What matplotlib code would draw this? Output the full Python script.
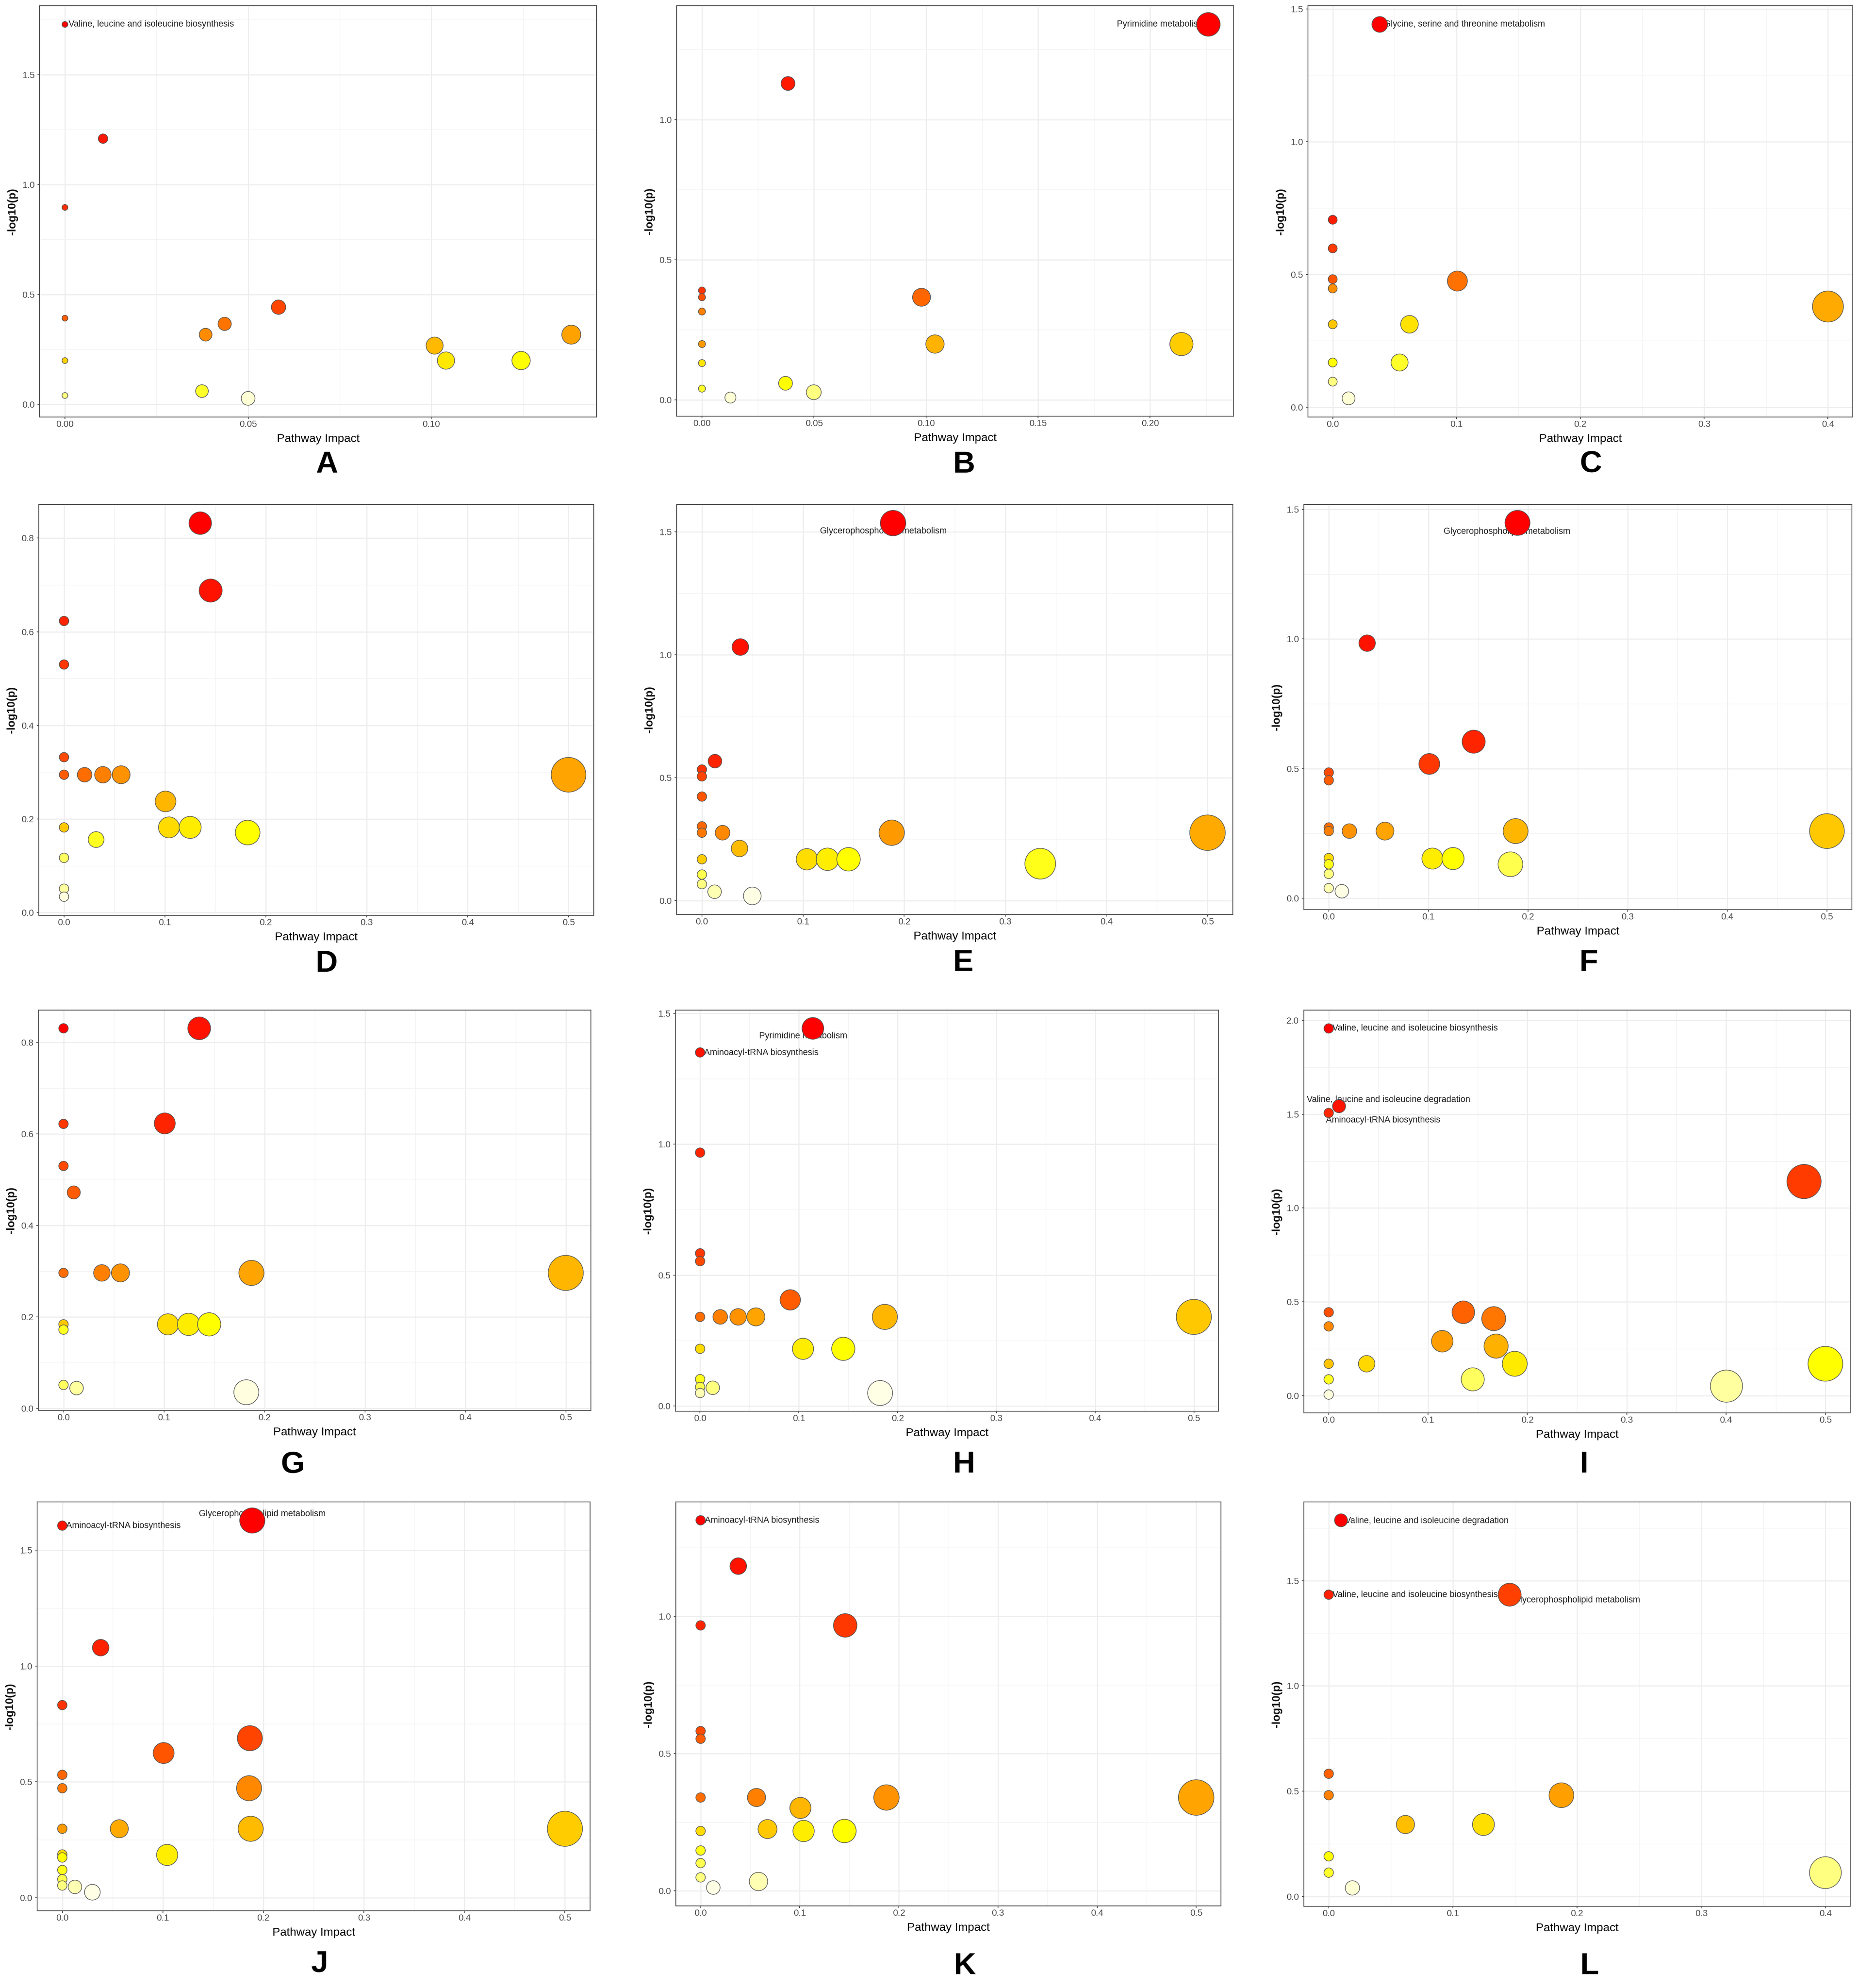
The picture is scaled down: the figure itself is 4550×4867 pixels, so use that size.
import numpy as np
import matplotlib
matplotlib.use('Agg')
import matplotlib.pyplot as plt
from matplotlib.colors import hsv_to_rgb
from matplotlib.ticker import MultipleLocator, AutoMinorLocator, FormatStrFormatter

plt.rcParams['font.family'] = ['Liberation Sans', 'DejaVu Sans']

# ---------------- data (Pathway Impact, -log10(p)) ----------------
A_impact = [0.0, 0.0104, 0.0, 0.0, 0.0, 0.0, 0.0384, 0.0436, 0.0583, 0.0374, 0.0500, 0.1009, 0.1040, 0.1245, 0.1382]
A_logp = [1.729, 1.209, 0.896, 0.392, 0.199, 0.040, 0.317, 0.366, 0.442, 0.060, 0.027, 0.267, 0.199, 0.199, 0.317]
A_labels = {0: 'Valine, leucine and isoleucine biosynthesis'}

B_impact = [0.226, 0.0384, 0, 0, 0, 0, 0, 0, 0.0127, 0.0373, 0.0499, 0.098, 0.104, 0.214]
B_logp = [1.340, 1.129, 0.390, 0.366, 0.315, 0.199, 0.131, 0.040, 0.008, 0.059, 0.027, 0.366, 0.199, 0.199]
B_labels = {0: 'Pyrimidine metabolism'}

C_impact = [0.038, 0, 0, 0, 0, 0, 0, 0, 0.0128, 0.1007, 0.400, 0.062, 0.054]
C_logp = [1.442, 0.706, 0.598, 0.482, 0.447, 0.312, 0.168, 0.096, 0.033, 0.475, 0.379, 0.312, 0.168]
C_labels = {0: 'Glycine, serine and threonine metabolism'}

D_impact = [0.135, 0.1453, 0, 0, 0, 0, 0.0204, 0.0385, 0.0566, 0.5, 0.1006, 0, 0.104, 0.125, 0.182, 0.0318, 0, 0, 0]
D_logp = [0.832, 0.688, 0.623, 0.530, 0.332, 0.2945, 0.2945, 0.2945, 0.2945, 0.2945, 0.2375, 0.182, 0.182, 0.182, 0.171, 0.156, 0.117, 0.051, 0.034]
D_labels = {}

E_impact = [0.189, 0.038, 0.0129, 0, 0, 0, 0, 0, 0.0204, 0.1877, 0.5, 0.0372, 0, 0.1038, 0.1242, 0.145, 0.3346, 0, 0, 0.0125, 0.0498]
E_logp = [1.535, 1.031, 0.567, 0.533, 0.505, 0.423, 0.302, 0.276, 0.276, 0.276, 0.276, 0.212, 0.168, 0.168, 0.168, 0.168, 0.150, 0.106, 0.067, 0.036, 0.019]
E_labels = {0: 'Glycerophospholipid metabolism'}

F_impact = [0.1894, 0.0385, 0.1454, 0.1009, 0, 0, 0, 0, 0.0207, 0.0564, 0.1875, 0.5, 0, 0.104, 0.1247, 0, 0.1823, 0, 0, 0.0131]
F_logp = [1.448, 0.984, 0.604, 0.518, 0.485, 0.455, 0.273, 0.259, 0.259, 0.259, 0.259, 0.259, 0.155, 0.153, 0.153, 0.131, 0.131, 0.094, 0.039, 0.027]
F_labels = {0: 'Glycerophospholipid metabolism'}

G_impact = [0, 0.1351, 0, 0.1008, 0, 0.0102, 0, 0.0382, 0.0567, 0.1871, 0.5, 0, 0.104, 0.1245, 0.145, 0, 0, 0.013, 0.182]
G_logp = [0.831, 0.831, 0.622, 0.623, 0.530, 0.472, 0.296, 0.296, 0.296, 0.296, 0.296, 0.1835, 0.1835, 0.1835, 0.1835, 0.172, 0.051, 0.044, 0.035]
G_labels = {}

H_impact = [0.1142, 0, 0, 0, 0, 0.0913, 0, 0.0204, 0.0385, 0.0565, 0.1871, 0.5, 0, 0.1042, 0.145, 0, 0, 0.0128, 0, 0.1823]
H_logp = [1.443, 1.351, 0.968, 0.583, 0.553, 0.405, 0.340, 0.340, 0.340, 0.340, 0.340, 0.340, 0.218, 0.218, 0.218, 0.102, 0.072, 0.069, 0.049, 0.049]
H_labels = {0: 'Pyrimidine metabolism', 1: 'Aminoacyl-tRNA biosynthesis'}

I_impact = [0, 0.0104, 0, 0.4785, 0, 0.1355, 0.1661, 0, 0.1143, 0.1685, 0, 0.0382, 0.1873, 0.5, 0, 0.145, 0.4004, 0]
I_logp = [1.956, 1.542, 1.506, 1.141, 0.445, 0.445, 0.411, 0.370, 0.291, 0.265, 0.171, 0.171, 0.171, 0.171, 0.088, 0.088, 0.052, 0.007]
I_labels = {0: 'Valine, leucine and isoleucine biosynthesis',
            1: 'Valine, leucine and isoleucine degradation',
            2: 'Aminoacyl-tRNA biosynthesis'}

J_impact = [0.189, 0, 0.0382, 0, 0.1866, 0.1008, 0, 0, 0.1858, 0, 0.0567, 0.1874, 0.5, 0, 0, 0.1043, 0, 0, 0, 0.0126, 0.0299]
J_logp = [1.628, 1.606, 1.079, 0.831, 0.688, 0.624, 0.530, 0.472, 0.472, 0.297, 0.297, 0.297, 0.297, 0.186, 0.173, 0.184, 0.119, 0.079, 0.052, 0.046, 0.023]
J_labels = {0: 'Glycerophospholipid metabolism', 1: 'Aminoacyl-tRNA biosynthesis'}

K_impact = [0, 0.038, 0, 0.1459, 0, 0, 0, 0.0564, 0.1875, 0.5, 0.1007, 0.0675, 0, 0.1039, 0.1451, 0, 0, 0, 0.0584, 0.0128]
K_logp = [1.350, 1.183, 0.967, 0.967, 0.582, 0.554, 0.340, 0.340, 0.340, 0.340, 0.302, 0.225, 0.218, 0.218, 0.218, 0.147, 0.101, 0.049, 0.034, 0.012]
K_labels = {0: 'Aminoacyl-tRNA biosynthesis'}

L_impact = [0.0099, 0, 0.1457, 0, 0, 0.1874, 0.0618, 0.1246, 0, 0, 0.4, 0.0191]
L_logp = [1.786, 1.433, 1.433, 0.583, 0.481, 0.481, 0.342, 0.342, 0.191, 0.1135, 0.1135, 0.041]
L_labels = {0: 'Valine, leucine and isoleucine degradation',
            1: 'Valine, leucine and isoleucine biosynthesis',
            2: 'Glycerophospholipid metabolism'}

PANELS = ['A', 'B', 'C', 'D', 'E', 'F', 'G', 'H', 'I', 'J', 'K', 'L']
DATA = {
    'A': (A_impact, A_logp, A_labels), 'B': (B_impact, B_logp, B_labels),
    'C': (C_impact, C_logp, C_labels), 'D': (D_impact, D_logp, D_labels),
    'E': (E_impact, E_logp, E_labels), 'F': (F_impact, F_logp, F_labels),
    'G': (G_impact, G_logp, G_labels), 'H': (H_impact, H_logp, H_labels),
    'I': (I_impact, I_logp, I_labels), 'J': (J_impact, J_logp, J_labels),
    'K': (K_impact, K_logp, K_labels), 'L': (L_impact, L_logp, L_labels),
}

# ---------------- layout / style ----------------
W, H, DPI = 4550, 4867, 100
PX2PT = 72.0 / DPI

AX_PX = {  # left, top, right, bottom in pixels
    'A': (97, 14, 1461, 1021), 'B': (1657, 14, 3021, 1019), 'C': (3203, 14, 4537, 1021),
    'D': (95, 1235, 1454, 2241), 'E': (1657, 1235, 3019, 2239), 'F': (3193, 1235, 4535, 2227),
    'G': (94, 2473, 1447, 3453), 'H': (1654, 2473, 2984, 3455), 'I': (3193, 2473, 4531, 3459),
    'J': (91, 3677, 1445, 4678), 'K': (1655, 3677, 2990, 4666), 'L': (3193, 3677, 4531, 4667),
}
LETTER_PX = {'A': (800, 1130), 'B': (2361, 1130), 'C': (3896, 1129),
             'D': (800, 2352), 'E': (2359, 2350), 'F': (3891, 2350),
             'G': (717, 3579), 'H': (2361, 3578), 'I': (3879, 3578),
             'J': (783, 4800), 'K': (2363, 4806), 'L': (3893, 4806)}
SIZE_PX = {'A': (7.2, 23.3), 'B': (8.7, 29.0), 'C': (11.0, 38.0), 'D': (11.6, 42.5),
           'E': (11.6, 43.5), 'F': (11.6, 42.6), 'G': (11.6, 43.0), 'H': (11.6, 43.0),
           'I': (11.6, 42.6), 'J': (11.6, 43.0), 'K': (11.6, 43.5), 'L': (11.6, 39.0)}
TICKS = {'A': (0.05, 0.5, '%.2f'), 'B': (0.05, 0.5, '%.2f'), 'C': (0.1, 0.5, '%.1f'),
         'D': (0.1, 0.2, '%.1f'), 'E': (0.1, 0.5, '%.1f'), 'F': (0.1, 0.5, '%.1f'),
         'G': (0.1, 0.2, '%.1f'), 'H': (0.1, 0.5, '%.1f'), 'I': (0.1, 0.5, '%.1f'),
         'J': (0.1, 0.5, '%.1f'), 'K': (0.1, 0.5, '%.1f'), 'L': (0.1, 0.5, '%.1f')}
LABEL_OFFSETS = {  # px offsets (dx, dy) and horizontal alignment
    'A': {0: (9, 0, 'left')},
    'B': {0: (-8, 0, 'right')},
    'C': {0: (10, 0, 'left')},
    'E': {0: (-24, -20, 'center')},
    'F': {0: (-26, -21, 'center')},
    'H': {0: (-24, -19, 'center'), 1: (10, -1, 'left')},
    'I': {0: (9, 0, 'left'), 1: (121, 16, 'center'), 2: (-7, -18, 'left')},
    'J': {0: (24, 16, 'center'), 1: (9, -1, 'left')},
    'K': {0: (10, -1, 'left')},
    'L': {0: (10, -1, 'left'), 1: (9, 0, 'left'), 2: (9, -13, 'left')},
}


def heat_colors(n):
    j = n // 4
    i = n - j
    cols = [hsv_to_rgb((h, 1.0, 1.0)) for h in (np.linspace(0, 1 / 6, i) if i > 1 else [0.0])]
    if j > 0:
        for s in np.linspace(1 - 1 / (2 * j), 1 / (2 * j), j):
            cols.append(hsv_to_rgb((1 / 6, s, 1.0)))
    return cols


def expand(v):
    lo, hi = min(v), max(v)
    r = hi - lo
    return lo - 0.05 * r, hi + 0.05 * r


fig = plt.figure(figsize=(W / DPI, H / DPI), dpi=DPI)
fig.patch.set_facecolor('white')

for p in PANELS:
    xs, ys, labels = DATA[p]
    xs = np.asarray(xs, float)
    ys = np.asarray(ys, float)
    l, t, r, b = AX_PX[p]
    wpx, hpx = r - l, b - t
    ax = fig.add_axes([l / W, 1 - b / H, wpx / W, hpx / H])

    # colors by rank of -log10(p) (heat colours)
    order = np.argsort(-ys, kind='stable')
    hc = heat_colors(len(ys))
    cols = [None] * len(ys)
    for k, idx in enumerate(order):
        cols[idx] = hc[k]

    rmin, rmax = SIZE_PX[p]
    rad = rmin + (rmax - rmin) * np.sqrt(xs / xs.max())
    sizes = (2 * rad * PX2PT) ** 2

    ax.scatter(xs, ys, s=sizes, c=cols, edgecolors='#555555', linewidths=1.1, zorder=3)

    for idx, name in labels.items():
        dx, dy, ha = LABEL_OFFSETS[p][idx]
        ax.annotate(name, xy=(xs[idx], ys[idx]), xytext=(dx * PX2PT, dy * PX2PT),
                    textcoords='offset points', ha=ha, va='center', fontsize=15.5,
                    color='#222222', zorder=2)

    ax.set_xlim(*expand(xs))
    ax.set_ylim(*expand(ys))

    xstep, ystep, xfmt = TICKS[p]
    ax.xaxis.set_major_locator(MultipleLocator(xstep))
    ax.yaxis.set_major_locator(MultipleLocator(ystep))
    ax.xaxis.set_minor_locator(AutoMinorLocator(2))
    ax.yaxis.set_minor_locator(AutoMinorLocator(2))
    ax.xaxis.set_major_formatter(FormatStrFormatter(xfmt))
    ax.yaxis.set_major_formatter(FormatStrFormatter('%.1f'))

    ax.set_axisbelow(True)
    ax.grid(which='major', color='#EDEDED', linewidth=1.9)
    ax.grid(which='minor', color='#F2F2F2', linewidth=1.0)
    for sp in ax.spines.values():
        sp.set_color('#555555')
        sp.set_linewidth(1.5)
    ax.tick_params(which='major', direction='out', length=3.6, width=1.3, color='#444444',
                   labelsize=16, labelcolor='#4D4D4D')
    ax.tick_params(axis='x', which='major', pad=2.5)
    ax.tick_params(axis='y', which='major', pad=5)
    ax.tick_params(which='minor', length=0)

    ax.set_xlabel('Pathway Impact', fontsize=20.5, color='black')
    ax.xaxis.set_label_coords(0.5, -54 / hpx)
    ax.xaxis.label.set_va('center')
    ax.set_ylabel('-log10(p)', fontsize=19.5, fontweight='bold', color='#111111')
    ax.yaxis.set_label_coords(-66 / wpx, 0.5)
    ax.yaxis.label.set_va('center')

    lx, ly = LETTER_PX[p]
    fig.text(lx / W, 1 - (ly + 27) / H, p, ha='center', va='baseline',
             fontsize=54, fontweight='bold', color='black')

fig.savefig('out.png', dpi=DPI, facecolor='white')
